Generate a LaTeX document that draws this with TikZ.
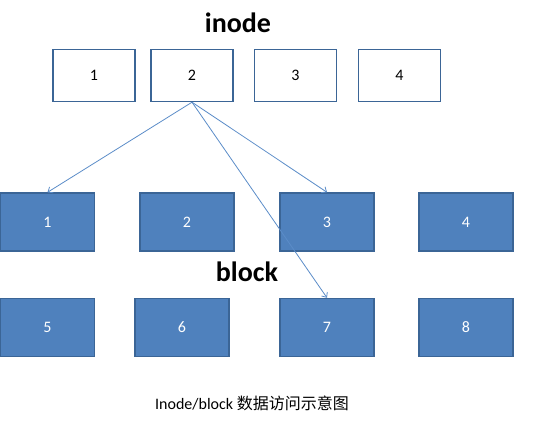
\documentclass[tikz,border=0pt]{standalone}
\usepackage{fontspec}
\setmainfont{Carlito}
\newfontfamily\cjk{Noto Sans CJK SC}
\usetikzlibrary{arrows.meta}
\definecolor{boxline}{HTML}{3B6596}
\definecolor{boxfill}{HTML}{4F81BD}
\definecolor{linkcol}{HTML}{5B8CC8}

\begin{document}
\begin{tikzpicture}[%
      x=1pt, y=-1pt, %
      inodebox/.style={draw=boxline, line width=1.4pt, fill=white,
        minimum width=82pt, minimum height=52pt, inner sep=0pt,
        font=\fontsize{16}{18}\selectfont},
      blockbox/.style={draw=boxline, line width=1.4pt, fill=boxfill,
        minimum width=94pt, minimum height=58pt, inner sep=0pt,
        text=white, font=\fontsize{16}{18}\selectfont},
      title/.style={font=\bfseries\fontsize{28}{30}\selectfont},
      link/.style={linkcol, line width=0.8pt, -{Straight Barb[length=4pt,width=7pt]}}
      ]
      \useasboundingbox (0,0) rectangle (537,421);

      % inode row
      \foreach \n/\x in {1/94, 2/192, 3/295.5, 4/399.5}{
        \node[inodebox] (i\n) at (\x, 75.5) {\n};
      }

      % block rows
      \foreach \n/\x in {1/47.5, 2/187, 3/327, 4/466}{
        \node[blockbox] (b\n) at (\x, 222) {\n};
      }
      \foreach \n/\x in {5/47.5, 6/182, 7/327, 8/466}{
        \node[blockbox] (b\n) at (\x, 327.5) {\n};
      }

      % titles
      \node[title] (inodetitle) at (238, 23) {inode};
      \node[title] (blocktitle) at (247, 272) {block};
      \node[font=\fontsize{16}{18}\selectfont] (caption) at (252, 403)
        {Inode/block {\cjk 数据访问示意图}};

      % pointers
      \draw[link] (i2.south) -- (b1.north);
      \draw[link] (i2.south) -- (b3.north);
      \draw[link] (i2.south) -- (b7.north);

    \end{tikzpicture}
\end{document}
